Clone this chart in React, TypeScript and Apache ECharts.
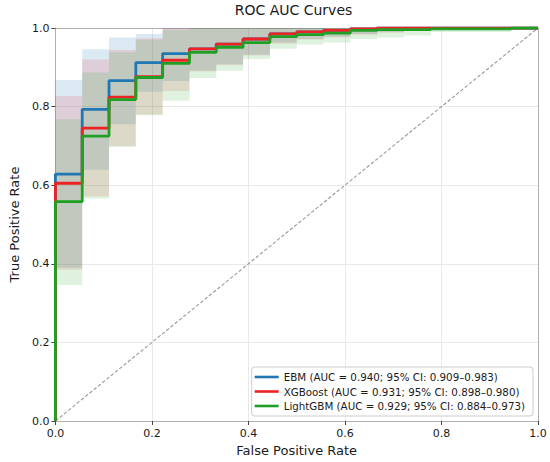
import React, { useEffect, useRef } from "react";
import * as echarts from "echarts";

// FPR breakpoints (18 negatives -> steps of 1/18)
const fprSteps: number[] = Array.from({ length: 19 }, (_, k) => k / 18);

// TPR level held on each FPR segment [k/18, (k+1)/18)
const ebmTpr = [0.628, 0.793, 0.866, 0.912, 0.935, 0.947, 0.959, 0.972, 0.985, 0.990, 0.994, 0.998, 1, 1, 1, 1, 1, 1];
const xgbTpr = [0.605, 0.745, 0.824, 0.876, 0.918, 0.947, 0.959, 0.972, 0.985, 0.990, 0.994, 0.998, 1, 1, 1, 1, 1, 1];
const lgbTpr = [0.558, 0.725, 0.818, 0.874, 0.910, 0.938, 0.951, 0.963, 0.978, 0.983, 0.987, 0.994, 0.996, 0.996, 0.998, 0.998, 0.998, 1];

// 95% CI bands per segment
const ebmUpper = [0.868, 0.946, 0.976, 0.985, 1, 1, 1, 1, 1, 1, 1, 1, 1, 1, 1, 1, 1, 1];
const ebmLower = [0.39, 0.639, 0.755, 0.838, 0.865, 0.891, 0.908, 0.932, 0.963, 0.972, 0.978, 0.985, 0.99, 0.995, 1, 1, 1, 1];
const xgbUpper = [0.827, 0.92, 0.944, 0.974, 1, 1, 1, 1, 1, 1, 1, 1, 1, 1, 1, 1, 1, 1];
const xgbLower = [0.385, 0.571, 0.7, 0.78, 0.84, 0.889, 0.905, 0.93, 0.96, 0.97, 0.976, 0.983, 0.988, 0.993, 0.997, 1, 1, 1];
const lgbUpper = [0.768, 0.887, 0.938, 0.97, 0.995, 1, 1, 1, 1, 1, 1, 1, 1, 1, 1, 1, 1, 1];
const lgbLower = [0.346, 0.566, 0.697, 0.778, 0.815, 0.873, 0.891, 0.921, 0.947, 0.958, 0.963, 0.972, 0.976, 0.981, 0.99, 0.99, 0.99, 1];

const modelNames = [
  "EBM (AUC = 0.940; 95% CI: 0.909–0.983)",
  "XGBoost (AUC = 0.931; 95% CI: 0.898–0.980)",
  "LightGBM (AUC = 0.929; 95% CI: 0.884–0.973)",
];
const modelColors = ["#1f77b4", "#ec2224", "#1fa024"];
const bandColors = ["rgba(31,119,180,0.16)", "rgba(236,34,36,0.13)", "rgba(31,160,36,0.14)"];
const xTicks = [0, 0.2, 0.4, 0.6, 0.8, 1.0];

const FONT = "DejaVu Sans";

function rocPoints(tpr: number[]) {
  const pts: number[][] = [[0, 0]];
  tpr.forEach((v, k) => pts.push([fprSteps[k], v]));
  pts.push([1, tpr[tpr.length - 1]]);
  return pts;
}

function bandSeries(name: string, lower: number[], upper: number[], fill: string) {
  const data = lower.map((l, k) => [fprSteps[k], fprSteps[k + 1], l, upper[k]]);
  return {
    name,
    type: "custom",
    silent: true,
    z: 1,
    data,
    encode: { x: [0, 1], y: [2, 3] },
    renderItem: (params: any, api: any) => {
      if (params.dataIndex !== 0) return null;
      const pts: number[][] = [];
      for (let k = 0; k < upper.length; k++) {
        pts.push(api.coord([fprSteps[k], upper[k]]));
        pts.push(api.coord([fprSteps[k + 1], upper[k]]));
      }
      for (let k = lower.length - 1; k >= 0; k--) {
        pts.push(api.coord([fprSteps[k + 1], lower[k]]));
        pts.push(api.coord([fprSteps[k], lower[k]]));
      }
      return { type: "polygon", shape: { points: pts }, style: { fill, stroke: null } };
    },
  };
}

export default function App() {
  const ref = useRef<HTMLDivElement>(null);
  useEffect(() => {
    if (!ref.current) return;
    const chart = echarts.init(ref.current, undefined, { renderer: "svg" });
    const gridLeft = 49, gridTop = 28, gridW = 489, gridH = 393;
    const axisCommon = {
      type: "value",
      min: 0,
      max: 1,
      interval: 0.2,
    };
    const option: any = {
      animation: false,
      backgroundColor: "#ffffff",
      textStyle: { fontFamily: FONT },
      grid: { left: gridLeft, top: gridTop, width: gridW, height: gridH, containLabel: false },
      graphic: [
        {
          type: "text",
          x: gridLeft + gridW / 2,
          y: 3,
          style: {
            text: "ROC AUC Curves",
            textAlign: "center",
            textVerticalAlign: "top",
            fontSize: 14,
            fontFamily: FONT,
            fill: "#1a1a1a",
          },
        },
      ],
      xAxis: [
        {
          ...axisCommon,
          position: "bottom",
          name: "False Positive Rate",
          nameLocation: "middle",
          nameGap: 22,
          nameTextStyle: { fontSize: 13, color: "#1a1a1a", fontFamily: FONT },
          axisLine: { show: true, onZero: false, lineStyle: { color: "#b0b0b0", width: 1 } },
          axisTick: { show: true, length: 4, lineStyle: { color: "#444" } },
          axisLabel: {
            fontSize: 11,
            color: "#1a1a1a",
            margin: 7,
            fontFamily: FONT,
            formatter: (v: number) => (xTicks.some((t) => Math.abs(t - v) < 1e-9) ? v.toFixed(1) : ""),
          },
          splitLine: { show: true, lineStyle: { color: "#e3e3e3", width: 0.8 } },
        },
        {
          ...axisCommon,
          position: "top",
          axisLine: { show: true, onZero: false, lineStyle: { color: "#b0b0b0", width: 1 } },
          axisTick: { show: false },
          axisLabel: { show: false },
          splitLine: { show: false },
        },
      ],
      yAxis: [
        {
          ...axisCommon,
          position: "left",
          name: "True Positive Rate",
          nameLocation: "middle",
          nameGap: 34,
          nameTextStyle: { fontSize: 13, color: "#1a1a1a", fontFamily: FONT },
          axisLine: { show: true, onZero: false, lineStyle: { color: "#b0b0b0", width: 1 } },
          axisTick: { show: true, length: 4, lineStyle: { color: "#444" } },
          axisLabel: {
            fontSize: 11,
            color: "#1a1a1a",
            margin: 6,
            fontFamily: FONT,
            formatter: (v: number) => v.toFixed(1),
          },
          splitLine: { show: true, lineStyle: { color: "#e3e3e3", width: 0.8 } },
        },
        {
          ...axisCommon,
          position: "right",
          axisLine: { show: true, onZero: false, lineStyle: { color: "#b0b0b0", width: 1 } },
          axisTick: { show: false },
          axisLabel: { show: false },
          splitLine: { show: false },
        },
      ],
      legend: {
        data: modelNames,
        orient: "vertical",
        right: 17,
        bottom: 46,
        padding: [4, 8, 4, 3],
        itemGap: 2.5,
        itemWidth: 24,
        itemHeight: 2.6,
        icon: "rect",
        borderColor: "#cccccc",
        borderWidth: 1,
        borderRadius: 3,
        backgroundColor: "rgba(255,255,255,0.85)",
        textStyle: { fontSize: 10.3, color: "#1a1a1a", fontFamily: FONT, lineHeight: 12 },
      },
      series: [
        bandSeries("ebm-ci", ebmLower, ebmUpper, bandColors[0]),
        bandSeries("xgb-ci", xgbLower, xgbUpper, bandColors[1]),
        bandSeries("lgb-ci", lgbLower, lgbUpper, bandColors[2]),
        {
          name: "chance",
          type: "line",
          symbol: "none",
          silent: true,
          lineStyle: { color: "#999999", width: 1.1, type: [3.5, 2] },
          data: [
            [0, 0],
            [1, 1],
          ],
          z: 2,
        },
        ...[ebmTpr, xgbTpr, lgbTpr].map((tpr, i) => ({
          name: modelNames[i],
          type: "line",
          step: "end",
          symbol: "none",
          color: modelColors[i],
          lineStyle: { color: modelColors[i], width: 2.8 },
          data: rocPoints(tpr),
          z: 3 + i,
        })),
      ],
    };
    chart.setOption(option);
    return () => chart.dispose();
  }, []);
  return (
    <div
      ref={ref}
      style={{ position: "fixed", left: 0, top: 0, width: 550, height: 462, background: "#fff" }}
    />
  );
}
